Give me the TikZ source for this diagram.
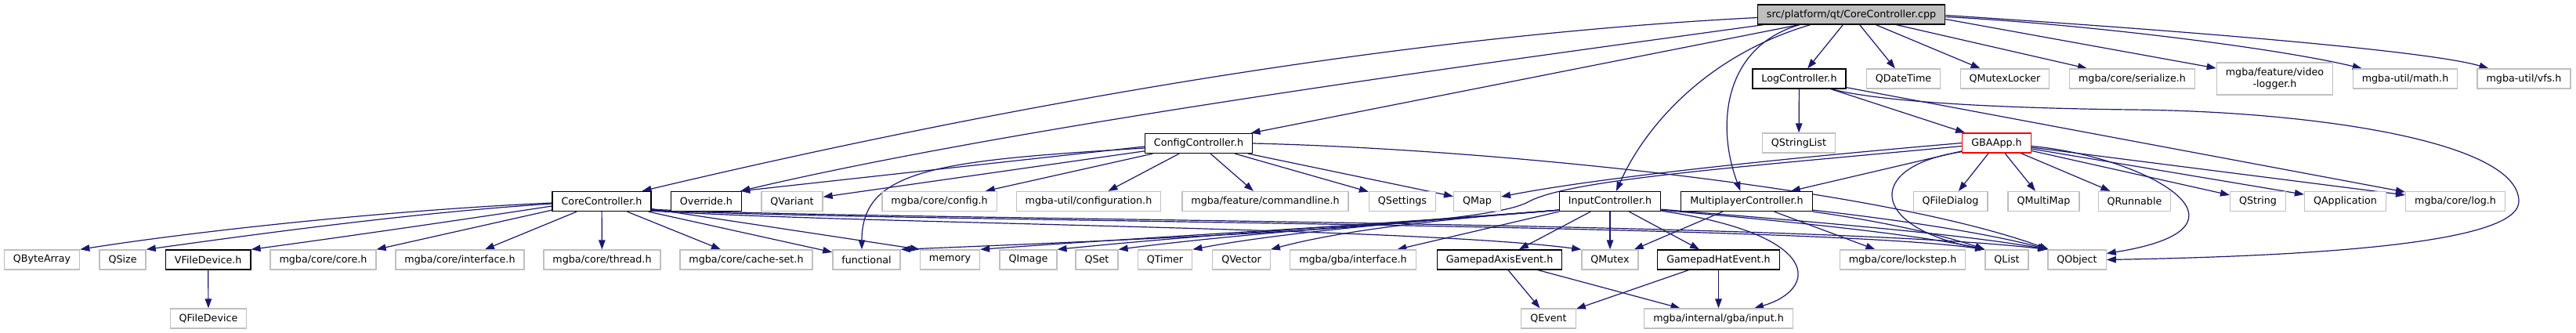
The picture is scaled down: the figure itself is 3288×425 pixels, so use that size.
\documentclass[tikz,border=0pt]{standalone}
\usepackage{fontspec}
\setmainfont{DejaVu Sans}
\usetikzlibrary{arrows.meta,calc,backgrounds}
\definecolor{edgec}{HTML}{191970}
\definecolor{grayb}{HTML}{BFBFBF}
\begin{document}
\begin{tikzpicture}[x=1pt,y=-1pt,
  box/.style={draw=grayb, line width=1.3pt, fill=white, minimum height=25pt,
    inner xsep=11.5pt, inner ysep=0pt, font=\fontsize{12.7}{14.5}\selectfont, text=black},
  bbox/.style={box, draw=black},
  rbox/.style={box, draw=red},
  rootbox/.style={box, draw=black, fill=grayb},
  e/.style={draw=edgec, line width=1.2pt, -{Triangle[length=12pt,width=8.5pt]}}]
\useasboundingbox (0,0) rectangle (3288,425);
% row 0
\node[rootbox] (root) at (2363,18.5) {src/platform/qt/CoreController.cpp};
% row 1
\node[bbox] (log) at (2296.5,100.5) {LogController.h};
\node[box] (qdatetime) at (2429.5,100.5) {QDateTime};
\node[box] (qmutexlocker) at (2559,100.5) {QMutexLocker};
\node[box] (serialize) at (2721.5,100.5) {mgba/core/serialize.h};
\node[box, align=center, minimum height=41pt] (videologger) at (2903.5,100.5) {mgba/feature/video\\-logger.h};
\node[box] (math) at (3070,100.5) {mgba-util/math.h};
\node[box] (vfs) at (3221.5,100.5) {mgba-util/vfs.h};
% row 2
\node[bbox] (config) at (1530,183) {ConfigController.h};
\node[box] (qstringlist) at (2296,182.5) {QStringList};
\node[rbox] (gbaapp) at (2548.5,182.5) {GBAApp.h};
% row 3
\node[bbox] (corectrl) at (768,257) {CoreController.h};
\node[bbox] (override) at (901.5,257) {Override.h};
\node[box] (qvariant) at (1011,257) {QVariant};
\node[box] (coreconfig) at (1199,257) {mgba/core/config.h};
\node[box] (configuration) at (1389.5,257) {mgba-util/configuration.h};
\node[box] (commandline) at (1615,257) {mgba/feature/commandline.h};
\node[box] (qsettings) at (1790,257) {QSettings};
\node[box] (qmap) at (1885.5,257) {QMap};
\node[bbox] (inputctrl) at (2055,257) {InputController.h};
\node[bbox] (multi) at (2229.5,257) {MultiplayerController.h};
\node[box] (qfiledialog) at (2489.5,257) {QFileDialog};
\node[box] (qmultimap) at (2608.5,257) {QMultiMap};
\node[box] (qrunnable) at (2724.5,257) {QRunnable};
\node[box] (qstring) at (2882,257) {QString};
\node[box] (qapplication) at (2993.5,257) {QApplication};
\node[box] (corelog) at (3134,257) {mgba/core/log.h};
% row 4
\node[box] (qbytearray) at (53.6,331.5) {QByteArray};
\node[box] (qsize) at (156.6,331.5) {QSize};
\node[bbox] (vfiledevice) at (265.7,331.5) {VFileDevice.h};
\node[box] (corecore) at (412.5,331.5) {mgba/core/core.h};
\node[box] (coreinterface) at (587,331.5) {mgba/core/interface.h};
\node[box] (thread) at (768.5,331.5) {mgba/core/thread.h};
\node[box] (cacheset) at (952.5,331.5) {mgba/core/cache-set.h};
\node[box] (functional) at (1106,331.5) {functional};
\node[box] (memory) at (1212.5,331.5) {memory};
\node[box] (qimage) at (1312.5,331.5) {QImage};
\node[box] (qset) at (1400,331.5) {QSet};
\node[box] (qtimer) at (1487,331.5) {QTimer};
\node[box] (qvector) at (1584.5,331.5) {QVector};
\node[box] (gbainterface) at (1727,331.5) {mgba/gba/interface.h};
\node[bbox] (axis) at (1914,331.5) {GamepadAxisEvent.h};
\node[box] (qmutex) at (2055,331.5) {QMutex};
\node[bbox] (hat) at (2193.5,331.5) {GamepadHatEvent.h};
\node[box] (lockstep) at (2428.5,331.5) {mgba/core/lockstep.h};
\node[box] (qlist) at (2561.5,331.5) {QList};
\node[box] (qobject) at (2651,331.5) {QObject};
% row 5
\node[box] (qfiledevice) at (266,406.5) {QFileDevice};
\node[box] (qevent) at (1976.5,406.5) {QEvent};
\node[box] (gbainput) at (2193.5,406.5) {mgba/internal/gba/input.h};

\begin{scope}[on background layer]
% root
\draw[e] ($(root.west)+(0,4)$) .. controls (1800,45) and (1300,130) .. ($(corectrl.north east)+(-12,0)$);
\draw[e] ($(root.south west)+(8,0)$) .. controls (1900,80) and (1300,160) .. ($(override.north east)+(-2,0)$);
\draw[e] (root) -- (config);
\draw[e] ($(root.south west)+(68,0)$) .. controls (2180,70) and (2100,160) .. ($(inputctrl.north)+(8,0)$);
\draw[e] ($(root.south west)+(54,0)$) .. controls (2200,60) and (2190,160) .. ($(multi.north)+(-8,0)$);
\draw[e] (root) -- (log);
\draw[e] (root) -- (qdatetime);
\draw[e] (root) -- (qmutexlocker);
\draw[e] (root) -- (serialize);
\draw[e] ($(root.east)+(0,6)$) -- (videologger);
\draw[e] ($(root.east)+(0,3)$) .. controls (2650,30) and (2900,60) .. (math);
\draw[e] ($(root.east)+(0,1)$) .. controls (2800,40) and (3100,65) .. (vfs);
% ConfigController.h
\draw[e] ($(config.west)+(0,4)$) -- ($(override.north east)+(-2,0)$);
\draw[e] (config) -- (qvariant);
\draw[e] ($(config.west)+(0,6)$) .. controls (1200,205) and (1100,215) .. ($(functional.north)+(-6,0)$);
\draw[e] (config) -- (coreconfig);
\draw[e] (config) -- (configuration);
\draw[e] (config) -- (commandline);
\draw[e] (config) -- (qsettings);
\draw[e] (config) -- (qmap);
\draw[e] (config.east) .. controls (1900,190) and (2400,240) .. (qobject);
% CoreController.h
\draw[e] ($(corectrl.west)+(0,2)$) .. controls (500,268) and (250,295) .. (qbytearray.north east);
\draw[e] ($(corectrl.west)+(0,3)$) .. controls (520,272) and (320,300) .. (qsize.north east);
\draw[e] ($(corectrl.west)+(0,6)$) .. controls (580,282) and (420,305) .. (vfiledevice.north east);
\draw[e] ($(corectrl.south west)+(0,-2)$) -- (corecore.north east);
\draw[e] (corectrl) -- (coreinterface);
\draw[e] (corectrl) -- (thread);
\draw[e] (corectrl) -- (cacheset);
\draw[e] (corectrl) -- (functional);
\draw[e] (corectrl) -- (memory.north west);
\draw[e] ($(corectrl.south east)+(0,-1)$) .. controls (1100,286) and (1800,290) .. (qmutex.north west);
\draw[e] ($(corectrl.south east)+(0,-2)$) .. controls (1100,283) and (2300,285) .. (qlist.north west);
\draw[e] ($(corectrl.south east)+(0,-3)$) .. controls (1100,281) and (2300,282) .. (qobject.north west);
% InputController.h
\draw[e] ($(inputctrl.south west)+(0,-2)$) .. controls (1800,285) and (1500,300) .. (memory.north east);
\draw[e] ($(inputctrl.south west)+(0,-2)$) .. controls (1800,283) and (1550,298) .. (qimage.north east);
\draw[e] ($(inputctrl.south west)+(0,-2)$) .. controls (1820,282) and (1600,296) .. (qset.north east);
\draw[e] ($(inputctrl.south west)+(0,-2)$) .. controls (1840,280) and (1650,294) .. (qtimer.north east);
\draw[e] ($(inputctrl.south west)+(0,-2)$) .. controls (1860,278) and (1720,292) .. (qvector.north east);
\draw[e] (inputctrl.south west) -- (gbainterface);
\draw[e] (inputctrl) -- (axis);
\draw[e] (inputctrl) -- (qmutex);
\draw[e] (inputctrl) -- (hat);
\draw[e] ($(inputctrl.south east)+(0,-1)$) .. controls (2330,300) and (2320,370) .. (gbainput);
\draw[e] ($(inputctrl.south east)+(0,-3)$) .. controls (2300,282) and (2500,298) .. (qobject.north west);
\draw[e] ($(inputctrl.south east)+(0,-2)$) .. controls (2300,284) and (2450,300) .. (qlist.north west);
% MultiplayerController.h
\draw[e] (multi) -- (qmutex);
\draw[e] (multi) -- (lockstep);
\draw[e] (multi.south east) .. controls (2400,282) and (2480,300) .. (qlist.north west);
\draw[e] ($(multi.south east)+(0,-2)$) .. controls (2420,280) and (2540,298) .. (qobject.north west);
% LogController.h
\draw[e] (log) -- (qstringlist);
\draw[e] (log) -- (gbaapp);
\draw[e] (log) -- (corelog);
\draw[e] ($(log.south east)+(-19,0)$) .. controls (2400,130) and (2550,138) .. (2720,140)
   .. controls (2950,142) and (3215,180) .. (3215,257)
   .. controls (3215,300) and (3050,325) .. (qobject.east);
% GBAApp.h
\draw[e] (gbaapp.west) .. controls (2300,200) and (2050,225) .. (qmap);
\draw[e] ($(gbaapp.west)+(0,4)$) .. controls (2200,215) and (2000,230) .. (1950,258)
   .. controls (1900,285) and (1600,300) .. (functional.north east);
\draw[e] (gbaapp) -- (multi);
\draw[e] (gbaapp) -- (qfiledialog);
\draw[e] (gbaapp) -- (qmultimap);
\draw[e] (gbaapp) -- (qrunnable);
\draw[e] (gbaapp) -- (qstring);
\draw[e] (gbaapp) -- (qapplication);
\draw[e] (gbaapp) -- (corelog);
\draw[e] ($(gbaapp.south west)+(0,-2)$) .. controls (2380,212) and (2385,290) .. (qlist.north west);
\draw[e] ($(gbaapp.east)+(0,4)$) .. controls (2740,200) and (2900,290) .. ($(qobject.east)+(0,-8)$);
% Gamepad events, VFileDevice
\draw[e] (axis) -- (qevent);
\draw[e] (axis) -- (gbainput);
\draw[e] (hat) -- (qevent);
\draw[e] (hat) -- (gbainput);
\draw[e] (vfiledevice) -- (qfiledevice);
\end{scope}
\end{tikzpicture}
\end{document}
